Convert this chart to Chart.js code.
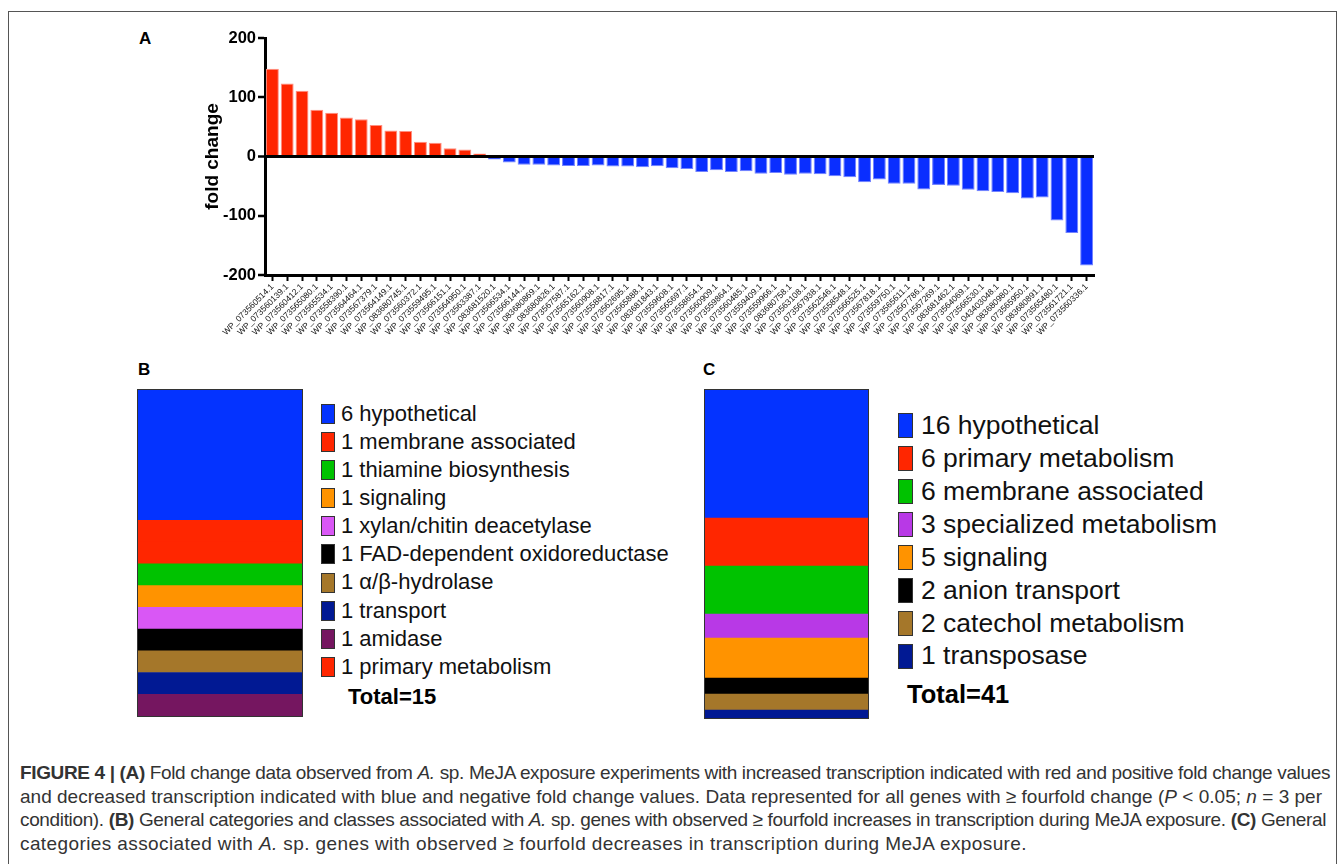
<!DOCTYPE html>
<html>
<head>
<meta charset="utf-8">
<script src="https://cdn.jsdelivr.net/npm/chart.js@4"></script>
<style>
  body { margin: 0; background: #fff; font-family: "Liberation Sans", Arial, Helvetica, sans-serif; }
  #page { position: relative; width: 1344px; height: 864px; overflow: hidden; }
  #frame { position: absolute; left: 8px; top: 11px; width: 1327px; height: 860px; border: 1px solid #555; }
  .panel { position: absolute; font-weight: bold; font-size: 17px; color: #000; }
  .stackbox { position: absolute; border: 1px solid #333; }
  .leg { position: absolute; white-space: nowrap; color: #111; }
  .leg .sw { position: absolute; left: 0; border: 1px solid #333; box-sizing: border-box; }
  .total { position: absolute; font-weight: bold; color: #000; white-space: nowrap; }
  #caption { position: absolute; left: 20px; top: 761px; font-size: 19px; line-height: 23.5px; color: #333; }
  #caption div { white-space: nowrap; }
</style>
</head>
<body>
<div id="page">
  <div id="frame"></div>
  <div class="panel" style="left:139px;top:29px;">A</div>
  <div class="panel" style="left:138px;top:360px;">B</div>
  <div class="panel" style="left:703px;top:360px;">C</div>

  <canvas id="chartA" width="1344" height="350" style="position:absolute;left:0;top:0;"></canvas>

  <div class="stackbox" style="left:137px;top:389px;width:164px;height:326px;">
    <canvas id="chartB" width="164" height="326"></canvas>
  </div>
  <div id="legendB"></div>

  <div class="stackbox" style="left:704px;top:389px;width:163px;height:328px;">
    <canvas id="chartC" width="163" height="328"></canvas>
  </div>
  <div id="legendC"></div>

  <div id="caption">
    <div><b>FIGURE 4 | (A)</b> Fold change data observed from <i>A.</i> sp. MeJA exposure experiments with increased transcription indicated with red and positive fold change values</div>
    <div>and decreased transcription indicated with blue and negative fold change values. Data represented for all genes with ≥ fourfold change (<i>P</i> &lt; 0.05; <i>n</i> = 3 per</div>
    <div>condition). <b>(B)</b> General categories and classes associated with <i>A.</i> sp. genes with observed ≥ fourfold increases in transcription during MeJA exposure. <b>(C)</b> General</div>
    <div>categories associated with <i>A.</i> sp. genes with observed ≥ fourfold decreases in transcription during MeJA exposure.</div>
  </div>
</div>

<script>
// panel A data
const geneIds = [
  'WP_073560514.1','WP_073560139.1','WP_073560412.1','WP_073565080.1','WP_073565534.1',
  'WP_073558390.1','WP_073564464.1','WP_073567379.1','WP_073564149.1','WP_083680745.1',
  'WP_073560372.1','WP_073559495.1','WP_073566151.1','WP_073564950.1','WP_073563387.1',
  'WP_083681520.1','WP_073566534.1','WP_073566144.1','WP_083680869.1','WP_083680826.1',
  'WP_073567587.1','WP_073565162.1','WP_073560908.1','WP_073558817.1','WP_073562695.1',
  'WP_073565888.1','WP_083681843.1','WP_073559608.1','WP_073565697.1','WP_073558654.1',
  'WP_073560909.1','WP_073559864.1','WP_073560485.1','WP_073559409.1','WP_073559966.1',
  'WP_083680758.1','WP_073563108.1','WP_073567938.1','WP_073562546.1','WP_073558548.1',
  'WP_073566525.1','WP_073567818.1','WP_073559750.1','WP_073565611.1','WP_073567786.1',
  'WP_073567269.1','WP_083681462.1','WP_073564069.1','WP_073566530.1','WP_043403048.1',
  'WP_083680980.1','WP_073565950.1','WP_083680891.1','WP_073565480.1','WP_073561721.1',
  'WP_073560336.1'
];
const foldChange = [
  148, 123, 111, 79, 74, 66, 63, 53, 44, 43, 25, 23, 14, 12, 5,
  -5, -10, -14, -14, -15, -16, -16, -15, -17, -17,
  -18, -16.5, -20, -21, -26, -23, -26, -25, -29, -28,
  -31, -29, -30, -33.5, -35, -43.5, -39, -46, -46, -55.5,
  -48, -49.5, -56, -58.5, -60, -62, -71, -69, -108, -129,
  -184
];
const yTickValues = [-200, -100, 0, 100, 200];

// panel B data (legend order)
const categoriesB = ['hypothetical', 'membrane associated', 'thiamine biosynthesis', 'signaling',
  'xylan/chitin deacetylase', 'FAD-dependent oxidoreductase', 'α/β-hydrolase', 'transport',
  'amidase', 'primary metabolism'];
const countsB = [6, 1, 1, 1, 1, 1, 1, 1, 1, 1];
const stackOrderB = [0, 1, 9, 2, 3, 4, 5, 6, 7, 8]; // top to bottom in the bar
const totalB = 15;

// panel C data
const categoriesC = ['hypothetical', 'primary metabolism', 'membrane associated', 'specialized metabolism',
  'signaling', 'anion transport', 'catechol metabolism', 'transposase'];
const countsC = [16, 6, 6, 3, 5, 2, 2, 1];
const totalC = 41;

const colorsB = ['#0433ff', '#ff2600', '#00c200', '#ff9300', '#d957f5', '#000000', '#a5772a', '#011993', '#751660', '#ff2600'];
const colorsC = ['#0433ff', '#ff2600', '#00c200', '#b839e6', '#ff9300', '#000000', '#a5772a', '#011993'];

const FONT = '"Liberation Sans", Arial, Helvetica, sans-serif';

// A: fold change bars
new Chart(document.getElementById('chartA'), {
  type: 'bar',
  data: {
    labels: geneIds,
    datasets: [{
      data: foldChange,
      backgroundColor: foldChange.map(v => v >= 0 ? '#ff2600' : '#0a2eff'),
      borderColor: foldChange.map(v => v >= 0 ? '#ff8f80' : '#7383ff'),
      borderWidth: 1,
      barPercentage: 0.87,
      categoryPercentage: 1
    }]
  },
  options: {
    responsive: false,
    animation: false,
    layout: { padding: { left: 201, top: 38, right: 250, bottom: 0 } },
    plugins: { legend: { display: false }, tooltip: { enabled: false } },
    scales: {
      x: {
        grid: { display: true, drawOnChartArea: false, drawTicks: true, tickLength: 6, tickColor: '#000', tickWidth: 2, offset: false },
        border: { display: true, color: '#000', width: 3 },
        ticks: { autoSkip: false, minRotation: 45, maxRotation: 45, padding: 1, color: '#111', font: { family: FONT, size: 8.5 } },
        afterFit: s => { s.height = 75; }
      },
      y: {
        min: -200, max: 200, z: 1,
        afterBuildTicks: s => { s.ticks = yTickValues.map(v => ({ value: v })); },
        grid: {
          color: c => (c.tick && c.tick.value === 0) ? '#000' : 'rgba(0,0,0,0)',
          lineWidth: c => (c.tick && c.tick.value === 0) ? 3 : 0,
          tickColor: '#000', tickWidth: 2.5, tickLength: 7, drawTicks: true
        },
        border: { display: true, color: '#000', width: 3 },
        ticks: { padding: 2, color: '#000', font: { family: FONT, size: 16.5, weight: 'bold' } },
        title: { display: true, text: 'fold change', padding: 0, color: '#000', font: { family: FONT, size: 19, weight: 'bold' } },
        afterFit: s => { s.width = 64; }
      }
    }
  }
});

// B and C: single stacked bars (dataset order is bottom to top)
function stackChart(id, cats, counts, colors, order, total) {
  const ds = order.slice().reverse().map(i => ({
    label: cats[i], data: [counts[i]], backgroundColor: colors[i],
    borderWidth: 0, barPercentage: 1, categoryPercentage: 1
  }));
  new Chart(document.getElementById(id), {
    type: 'bar',
    data: { labels: [''], datasets: ds },
    options: {
      responsive: false, animation: false,
      layout: { padding: 0 },
      plugins: { legend: { display: false }, tooltip: { enabled: false } },
      scales: {
        x: { display: false, stacked: true },
        y: { display: false, stacked: true, min: 0, max: total }
      }
    }
  });
}
stackChart('chartB', categoriesB, countsB, colorsB, stackOrderB, totalB);
stackChart('chartC', categoriesC, countsC, colorsC, categoriesC.map((c, i) => i), totalC);

// legends
function legend(id, cats, counts, colors, x, y0, step, fs, swW, swH, textX, totalTxt, totalX, totalY, totalFs) {
  const host = document.getElementById(id);
  cats.forEach((c, i) => {
    const row = document.createElement('div');
    row.className = 'leg';
    row.style.left = x + 'px';
    row.style.top = (y0 + i * step - fs * 0.6) + 'px';
    row.style.fontSize = fs + 'px';
    row.style.lineHeight = (fs * 1.2) + 'px';
    row.innerHTML = '<span class="sw" style="width:' + swW + 'px;height:' + swH + 'px;top:' + ((fs * 1.2 - swH) / 2) + 'px;background:' + colors[i] + '"></span>' +
      '<span style="margin-left:' + textX + 'px">' + counts[i] + ' ' + c + '</span>';
    host.appendChild(row);
  });
  const t = document.createElement('div');
  t.className = 'total';
  t.style.left = totalX + 'px';
  t.style.top = (totalY - totalFs * 0.6) + 'px';
  t.style.fontSize = totalFs + 'px';
  t.textContent = totalTxt;
  host.appendChild(t);
}
legend('legendB', categoriesB, countsB, colorsB, 321, 414, 28.1, 22, 14, 20, 20, 'Total=' + totalB, 348, 697, 22);
legend('legendC', categoriesC, countsC, colorsC, 898, 426, 32.9, 26.5, 15, 25, 23, 'Total=' + totalC, 907, 695, 25.5);

// caption line widths
const capTargets = [1310, 1302, 1306, 1007];
document.querySelectorAll('#caption div').forEach((el, i) => {
  el.style.display = 'inline-block';
  const w = el.getBoundingClientRect().width;
  const n = el.textContent.length;
  el.style.letterSpacing = ((capTargets[i] - w) / n) + 'px';
  el.style.display = 'block';
});
</script>
</body>
</html>
